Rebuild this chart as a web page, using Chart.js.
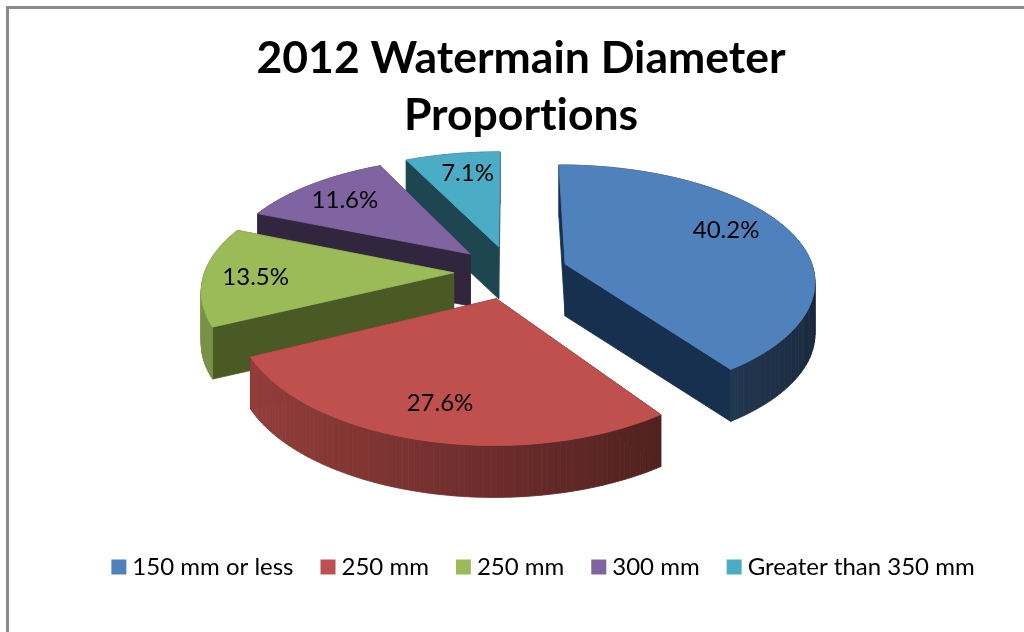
<!DOCTYPE html>
<html>
<head>
<meta charset="utf-8">
<title>2012 Watermain Diameter Proportions</title>
<script src="https://cdn.jsdelivr.net/npm/chart.js@4"></script>
<style>
  html, body { margin: 0; padding: 0; background: #fff; overflow: hidden; }
  #wrap { position: relative; width: 1024px; height: 632px; }
  #frame { position: absolute; left: 6px; top: 6px; right: -10px; bottom: -10px; border: 3px solid #8c8c8c; }
  canvas { position: absolute; left: 0; top: 0; }
</style>
</head>
<body>
<div id="wrap">
  <div id="frame"></div>
  <canvas id="pieChart" width="1024" height="632"></canvas>
</div>
<script>
const titleLines = ['2012 Watermain Diameter', 'Proportions'];
const categories = ['150 mm or less', '250 mm', '250 mm', '300 mm', 'Greater than 350 mm'];
const shares = [40.2, 27.6, 13.5, 11.6, 7.1];
const sliceColors = ['#4f81bd', '#c0504d', '#9bbb59', '#8064a2', '#4bacc6'];
const cutColors = ['#17304f', '#4f1f1b', '#4a5a25', '#32263f', '#1d4650'];
const labelNudge = [[-11, -8], [-1, 1], [-8, 2], [-2, 0], [5, -1]];

// 3D look: Excel style tilted pie, Chart.js has none so project the arcs ourselves
const CX = 511, CY = 272;
const RX = 249, RY = 116;
const PERSPECTIVE_X = 0.13, PERSPECTIVE_Y = 0.149;
const EXPLODE = 0.23;
const DEPTH = 52;
const LABEL_AT = 0.76;
const SHIFT_TITLE = 9, SHIFT_LEGEND = 34;

const project = (u, v) => ({
  x: CX + RX * u / (1 - PERSPECTIVE_X * v),
  y: CY + RY * v / (1 - PERSPECTIVE_Y * v)
});

const shade = (hex, f) => {
  const n = parseInt(hex.slice(1), 16);
  const c = [n >> 16, (n >> 8) & 255, n & 255].map((k) => Math.round(k * f));
  return `rgb(${c[0]}, ${c[1]}, ${c[2]})`;
};

const fillPoly = (ctx, pts, color) => {
  ctx.beginPath();
  pts.forEach((p, i) => (i ? ctx.lineTo(p.x, p.y) : ctx.moveTo(p.x, p.y)));
  ctx.closePath();
  ctx.fillStyle = color;
  ctx.strokeStyle = color;
  ctx.lineWidth = 0.8;
  ctx.fill();
  ctx.stroke();
};

const wallQuad = (a, b) => [
  project(a.u, a.v),
  project(b.u, b.v),
  { ...project(b.u, b.v), y: project(b.u, b.v).y + DEPTH },
  { ...project(a.u, a.v), y: project(a.u, a.v).y + DEPTH }
];

const drawSlice = (ctx, arc, i) => {
  const { startAngle, endAngle } = arc.getProps(['startAngle', 'endAngle'], true);
  const mid = (startAngle + endAngle) / 2;
  const ex = EXPLODE * Math.cos(mid), ey = EXPLODE * Math.sin(mid);
  const apex = { u: ex, v: ey };
  const rim = [];
  const steps = 80;
  for (let k = 0; k <= steps; k++) {
    const a = startAngle + (endAngle - startAngle) * k / steps;
    rim.push({ u: ex + Math.cos(a), v: ey + Math.sin(a), a });
  }

  const walls = [
    { pts: [apex, rim[0]], color: cutColors[i] },
    { pts: [apex, rim[steps]], color: cutColors[i] }
  ];
  for (let k = 0; k < steps; k++) {
    const nx = Math.cos((rim[k].a + rim[k + 1].a) / 2);
    // lighter on the left of the rim, darkest on the right
    walls.push({ pts: [rim[k], rim[k + 1]], color: shade(sliceColors[i], 0.56 - 0.24 * nx) });
  }
  walls.sort((w1, w2) => (w1.pts[0].v + w1.pts[1].v) - (w2.pts[0].v + w2.pts[1].v));
  walls.forEach((w) => fillPoly(ctx, wallQuad(w.pts[0], w.pts[1]), w.color));

  fillPoly(ctx, [apex, ...rim].map((p) => project(p.u, p.v)), sliceColors[i]);
};

const drawLabel = (ctx, arc, i) => {
  const { startAngle, endAngle } = arc.getProps(['startAngle', 'endAngle'], true);
  const mid = (startAngle + endAngle) / 2;
  const r = EXPLODE + LABEL_AT;
  const p = project(r * Math.cos(mid), r * Math.sin(mid));
  ctx.fillStyle = '#000';
  ctx.font = '24px Lato';
  ctx.textAlign = 'center';
  ctx.textBaseline = 'middle';
  ctx.fillText(shares[i].toFixed(1) + '%', p.x + labelNudge[i][0], p.y + labelNudge[i][1]);
};

const tiltedPie = {
  id: 'tiltedPie',
  afterLayout(chart) {
    chart.titleBlock.left += SHIFT_TITLE;
    chart.titleBlock.right += SHIFT_TITLE;
    chart.legend.left += SHIFT_LEGEND;
    chart.legend.right += SHIFT_LEGEND;
  },
  beforeDraw(chart) {
    // no ti ligature in the title
    chart.ctx.textRendering = 'optimizeSpeed';
  },
  beforeDatasetsDraw(chart) {
    const ctx = chart.ctx;
    const arcs = chart.getDatasetMeta(0).data;
    // back to front
    const order = arcs.map((arc, i) => i).sort((a, b) => {
      const sinMid = (arc) => Math.sin((arc.startAngle + arc.endAngle) / 2);
      return sinMid(arcs[a]) - sinMid(arcs[b]);
    });
    ctx.save();
    order.forEach((i) => drawSlice(ctx, arcs[i], i));
    arcs.forEach((arc, i) => drawLabel(ctx, arc, i));
    ctx.restore();
    return false;
  }
};

new Chart(document.getElementById('pieChart'), {
  type: 'pie',
  data: {
    labels: categories,
    // arcs are painted by tiltedPie, the border only makes the legend square 15px with a short gap
    datasets: [{ data: shares, backgroundColor: sliceColors, borderColor: sliceColors, borderWidth: 12 }]
  },
  options: {
    responsive: false,
    animation: false,
    layout: { padding: { bottom: 43 } },
    plugins: {
      title: {
        display: true,
        text: titleLines,
        color: '#000',
        font: { family: 'Lato', size: 44.5, weight: 'bold', lineHeight: 1.29 },
        padding: { top: 30, bottom: 0 }
      },
      legend: {
        position: 'bottom',
        labels: {
          color: '#000',
          font: { family: 'Lato', size: 24 },
          boxWidth: 3,
          boxHeight: 3,
          padding: 33
        }
      },
      tooltip: { enabled: false }
    }
  },
  plugins: [tiltedPie]
});
</script>
</body>
</html>
